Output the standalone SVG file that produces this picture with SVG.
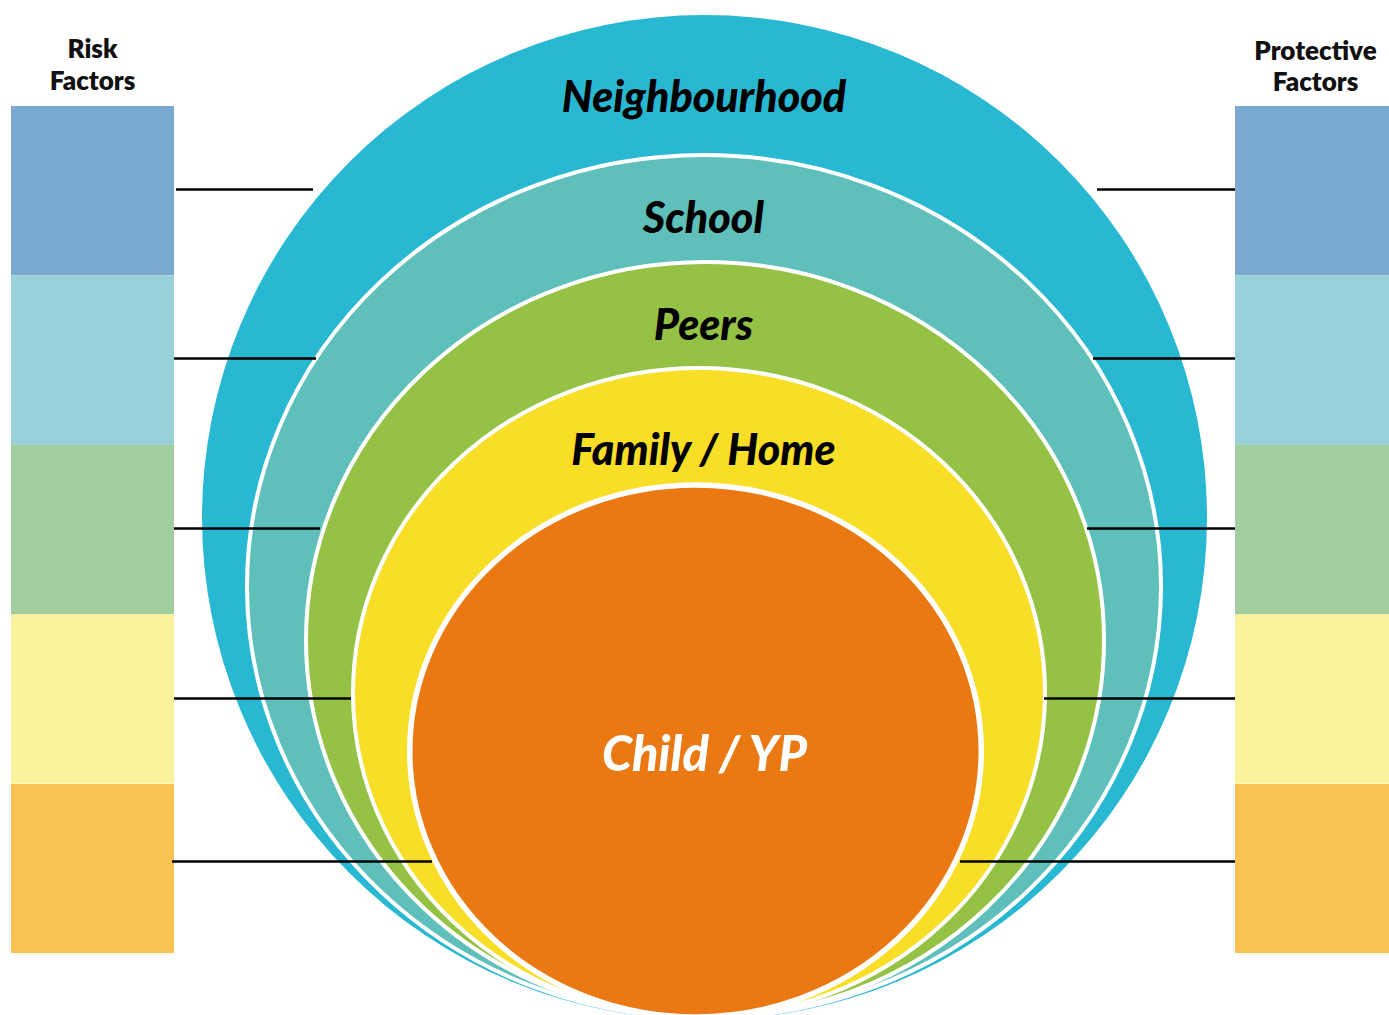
<svg xmlns="http://www.w3.org/2000/svg" width="1389" height="1015" viewBox="0 0 1389 1015">
<style>
.hdr{font-family:Lato,"Noto Sans","Liberation Sans",sans-serif;font-weight:800;font-size:26px;fill:#111;text-anchor:middle}
.lbl{font-family:Lato,"Noto Sans","Liberation Sans",sans-serif;font-weight:900;font-style:italic;font-size:43px;fill:#000;text-anchor:middle}
.ring{stroke:#fff;stroke-width:4}
.conn{stroke:#000;stroke-width:2.5;fill:none}
</style>
<rect width="1389" height="1015" fill="#fff"/>
<g id="risk-factors">
<text class="hdr" x="92.5" y="58">Risk</text>
<text class="hdr" x="92.5" y="90">Factors</text>
<rect x="11" y="106" width="163" height="169.4" fill="#7BA9CF"/>
<rect x="11" y="275.4" width="163" height="169.4" fill="#98D2D8"/>
<rect x="11" y="444.8" width="163" height="169.4" fill="#A0CE9E"/>
<rect x="11" y="614.2" width="163" height="169.4" fill="#FAF29D"/>
<rect x="11" y="784" width="163" height="169" fill="#FAC251"/>
</g>
<g id="protective-factors">
<text class="hdr" x="1315.5" y="60">Protective</text>
<text class="hdr" x="1315.5" y="91">Factors</text>
<rect x="1235" y="106" width="154" height="169.4" fill="#7BA9CF"/>
<rect x="1235" y="275.4" width="154" height="169.4" fill="#98D2D8"/>
<rect x="1235" y="444.8" width="154" height="169.4" fill="#A0CE9E"/>
<rect x="1235" y="614.2" width="154" height="169.4" fill="#FAF29D"/>
<rect x="1235" y="784" width="154" height="169" fill="#FAC251"/>
</g>
<g id="neighbourhood">
<ellipse cx="704.5" cy="517.5" rx="502.5" ry="502.5" fill="#29B8D2"/>
</g>
<g id="school">
<ellipse class="ring" cx="704" cy="586.5" rx="457" ry="431.5" fill="#5FBFBA"/>
</g>
<g id="peers">
<ellipse class="ring" cx="705" cy="640" rx="399" ry="378" fill="#95C245"/>
</g>
<g id="family-home">
<ellipse class="ring" cx="699" cy="693" rx="346" ry="325" fill="#F9DE28"/>
</g>
<g id="child-yp">
<ellipse cx="695.5" cy="751" rx="285.75" ry="266" fill="#EA7913" stroke="#fff" stroke-width="5.5"/>
</g>
<g id="labels">
<text class="lbl" x="704" y="112">Neighbourhood</text>
<text class="lbl" x="703.5" y="233">School</text>
<text class="lbl" x="703.5" y="340">Peers</text>
<text class="lbl" x="703.5" y="465">Family / Home</text>
<text class="lbl" x="704.5" y="771" style="fill:#fff;font-size:48.5px">Child / YP</text>
</g>
<g id="connectors">
<line class="conn" x1="176" y1="189.5" x2="313" y2="189.5"/>
<line class="conn" x1="174" y1="358.5" x2="316" y2="358.5"/>
<line class="conn" x1="174" y1="528.5" x2="320" y2="528.5"/>
<line class="conn" x1="174" y1="698.5" x2="351" y2="698.5"/>
<line class="conn" x1="172" y1="861.5" x2="432" y2="861.5"/>
<line class="conn" x1="1097" y1="189.5" x2="1235" y2="189.5"/>
<line class="conn" x1="1093" y1="358.5" x2="1235" y2="358.5"/>
<line class="conn" x1="1087" y1="528.5" x2="1235" y2="528.5"/>
<line class="conn" x1="1044" y1="698.5" x2="1235" y2="698.5"/>
<line class="conn" x1="960" y1="861.5" x2="1235" y2="861.5"/>
</g>
</svg>
